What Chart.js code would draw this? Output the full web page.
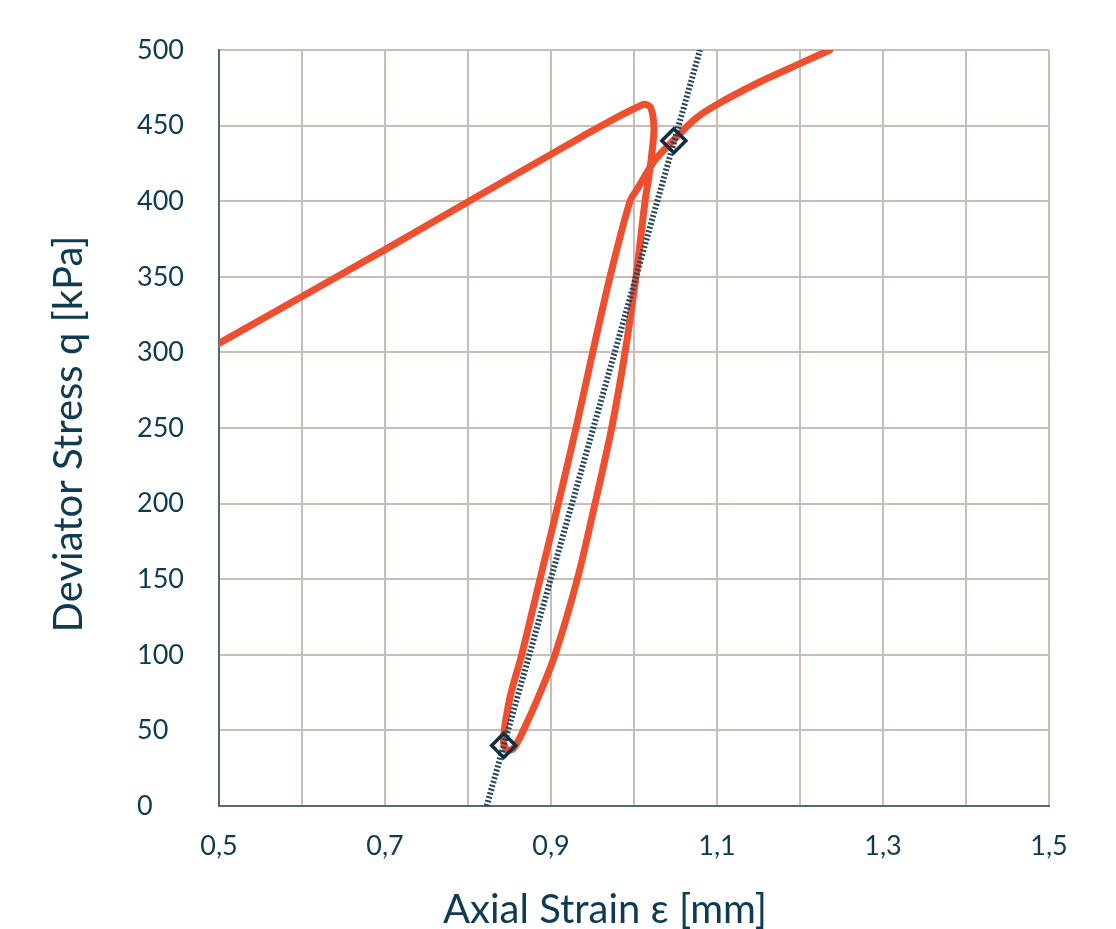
<!DOCTYPE html>
<html>
<head>
<meta charset="utf-8">
<title>Deviator Stress vs Axial Strain</title>
<script src="https://cdn.jsdelivr.net/npm/chart.js@4.4.1/dist/chart.umd.min.js"></script>
<style>
  html, body { margin: 0; padding: 0; background: #fff; }
</style>
</head>
<body>
<canvas id="stress" width="1116" height="929"></canvas>
<script>
//=============================== DATA ===============================
// loading -> peak -> unloading -> reloading path (red curve)
var curveStrain = [0.5, 0.7, 0.935, 1.011, 1.020, 1.024, 1.022, 1.0173, 1.0133, 1.0024, 0.9892, 0.9731, 0.953, 0.9317, 0.9048, 0.8847, 0.8667, 0.8546, 0.8470, 0.8426, 0.8506, 0.8647, 0.8867, 0.9088, 0.9301, 0.9502, 0.9711, 0.9952, 1.005, 1.025, 1.047, 1.075, 1.100, 1.152, 1.200, 1.236];
var curveStress = [306, 368, 442, 464, 462, 449, 434, 414, 400, 350, 300, 250, 200, 150, 100, 72, 50, 38, 37, 43, 72, 100, 150, 200, 250, 300, 350, 400, 409, 427, 440, 455, 464, 479, 491, 500];

// secant modulus line (dotted)
var secantStrain = [0.8225, 1.0795];
var secantStress = [0, 500];

// diamond markers
var markerStrain = [0.843, 1.048];
var markerStress = [40, 440];

var xMin = 0.5, xMax = 1.5, xStep = 0.1;
var yMin = 0, yMax = 500, yStep = 50;

var xTitle = 'Axial Strain ε [mm]';
var yTitle = 'Deviator Stress q [kPa]';

var textColor = '#0e3a53';
var gridColor = '#c9bdb6';
var axisColor = '#52697a';
var redColor = '#ee4f2f';

function toPoints(xs, ys) {
  var pts = [];
  for (var i = 0; i < xs.length; i++) pts.push({x: xs[i], y: ys[i]});
  return pts;
}

// axis titles, placed like the original (slightly off the plot centre)
var axisTitles = {
  id: 'axisTitles',
  afterDraw: function (chart) {
    var c = chart.ctx;
    c.save();
    c.fillStyle = textColor;
    c.font = '40px Lato';
    c.textAlign = 'center';
    c.textBaseline = 'alphabetic';
    c.fillText(xTitle, 605, 923);
    c.translate(82, 434);
    c.rotate(-Math.PI / 2);
    c.fillText(yTitle, 0, 0);
    c.restore();
  }
};

//=============================== CHART ===============================
var ctx = document.getElementById("stress");
var chart = new Chart(ctx, {
  type: 'scatter',
  data: {
    datasets: [{
      label: 'Markers',
      data: toPoints(markerStrain, markerStress),
      showLine: false,
      pointStyle: 'rectRot',
      pointRadius: 12,
      pointBorderWidth: 3.5,
      pointBorderColor: '#0f2e42',
      pointBackgroundColor: 'rgba(0,0,0,0)',
      order: 0
    }, {
      label: 'Secant',
      data: toPoints(secantStrain, secantStress),
      showLine: true,
      borderColor: '#22465e',
      borderWidth: 6,
      borderDash: [2, 2],
      pointRadius: 0,
      order: 1
    }, {
      label: 'Stress path',
      data: toPoints(curveStrain, curveStress),
      showLine: true,
      borderColor: redColor,
      borderWidth: 7,
      borderCapStyle: 'round',
      borderJoinStyle: 'round',
      tension: 0.3,
      pointRadius: 0,
      order: 2
    }]
  },
  options: {
    responsive: false,
    animation: false,
    layout: { padding: { left: 137, top: 50, right: 67, bottom: 0 } },
    plugins: {
      legend: { display: false },
      tooltip: { enabled: false }
    },
    scales: {
      x: {
        type: 'linear',
        min: xMin,
        max: xMax,
        afterFit: function (scale) { scale.height = 123; },
        grid: { color: gridColor, lineWidth: 2, drawTicks: false },
        border: { color: axisColor, width: 2 },
        ticks: {
          stepSize: xStep,
          autoSkip: false,
          maxRotation: 0,
          padding: 24,
          color: textColor,
          font: { family: 'Lato', size: 27 },
          callback: function (v, i) {
            return i % 2 === 0 ? v.toFixed(1).replace('.', ',') : '';
          }
        }
      },
      y: {
        type: 'linear',
        min: yMin,
        max: yMax,
        afterFit: function (scale) { scale.width = 82; },
        grid: { color: gridColor, lineWidth: 2, drawTicks: false },
        border: { color: axisColor, width: 2 },
        ticks: {
          stepSize: yStep,
          crossAlign: 'far',
          color: textColor,
          font: { family: 'Lato', size: 27 }
        }
      }
    }
  },
  plugins: [axisTitles]
});
</script>
</body>
</html>
